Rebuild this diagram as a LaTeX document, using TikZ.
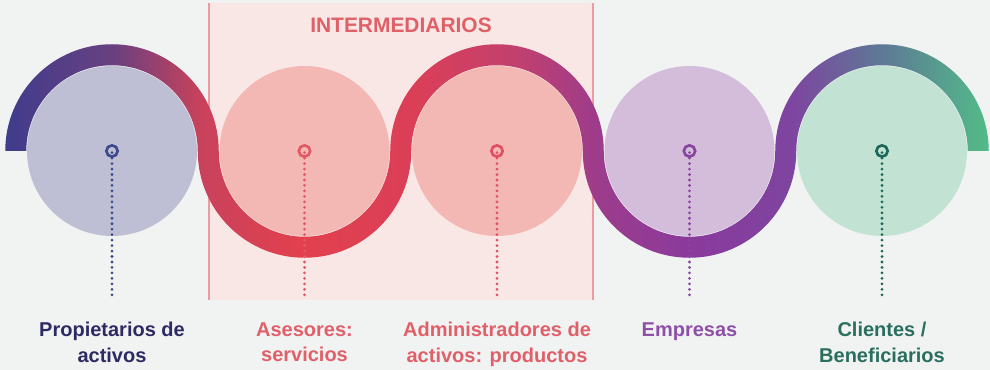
\documentclass[tikz,border=0pt]{standalone}
\usepackage{fontspec}
\setmainfont{Liberation Sans}

\definecolor{bgcol}{RGB}{241,243,242}
\definecolor{boxfill}{RGB}{249,231,229}
\definecolor{boxline}{RGB}{238,154,162}
\definecolor{titlecol}{RGB}{224,96,104}
% circle fills
\definecolor{fillprop}{RGB}{190,191,213}
\definecolor{fillinter}{RGB}{244,184,180}
\definecolor{fillemp}{RGB}{211,189,218}
\definecolor{fillcli}{RGB}{194,227,212}
% rings, dots and labels
\definecolor{ringprop}{RGB}{61,74,140}
\definecolor{ringases}{RGB}{224,90,102}
\definecolor{ringadm}{RGB}{224,79,99}
\definecolor{ringemp}{RGB}{137,68,160}
\definecolor{ringcli}{RGB}{29,103,90}
\definecolor{txtprop}{RGB}{46,42,99}
\definecolor{txtinter}{RGB}{224,96,106}
\definecolor{txtemp}{RGB}{142,79,168}
\definecolor{txtcli}{RGB}{42,110,94}
% ribbon stops
\definecolor{rb0}{RGB}{64,60,140}
\definecolor{rb1}{RGB}{104,64,128}
\definecolor{rb2}{RGB}{200,66,92}
\definecolor{rb3}{RGB}{226,64,78}
\definecolor{rb4}{RGB}{218,63,88}
\definecolor{rb5}{RGB}{192,64,112}
\definecolor{rb6}{RGB}{156,60,140}
\definecolor{rb7}{RGB}{138,58,156}
\definecolor{rb8}{RGB}{126,68,160}
\definecolor{rb9}{RGB}{94,120,150}
\definecolor{rb10}{RGB}{82,188,136}

\pgfdeclarehorizontalshading{ribbonshade}{100bp}{color(0bp)=(rb0); color(25bp)=(rb0); color(30.4bp)=(rb1); color(34.9bp)=(rb2); color(40bp)=(rb3); color(46.1bp)=(rb4); color(51.2bp)=(rb5); color(55.2bp)=(rb6); color(59.8bp)=(rb7); color(64.9bp)=(rb8); color(69.5bp)=(rb9); color(75bp)=(rb10); color(100bp)=(rb10)}

\tikzset{every picture/.style={line width=0.75pt}}
\tikzset{
  ring/.style={circle, draw=#1, line width=2pt, minimum size=8.5pt, inner sep=0pt},
  dots/.style={draw=#1, line width=2.3pt, line cap=round, dash pattern=on 0pt off 4.1pt},
  lbl/.style={anchor=north, inner sep=0pt, align=center, text=#1, font=\bfseries\fontsize{15}{19}\selectfont}
}

\begin{document}
\begin{tikzpicture}[x=0.75pt,y=0.75pt,yscale=-1,xscale=1]
%Background
\fill[bgcol] (0,0) rectangle (990,370);
\useasboundingbox (0,0) rectangle (990,370);

%Shape: Rectangle (intermediarios)
\fill[boxfill] (209,3) rectangle (593,300.5);
\draw[boxline, line width=1.5pt] (209,3) -- (209,300.5) (593,3) -- (593,300.5);
\node[anchor=base, inner sep=0pt, text=titlecol, font=\bfseries\fontsize{15.7}{19}\selectfont] (title) at (401,33) {INTERMEDIARIOS};

%Shape: Circles
\fill[fillprop] (112,151) circle [radius=85];
\fill[fillinter] (304.5,151) circle [radius=85];
\fill[fillinter] (497,151) circle [radius=85];
\fill[fillemp] (689.5,151) circle [radius=85];
\fill[fillcli] (882,151) circle [radius=85];

%Shape: Ribbon
\shade[shading=ribbonshade] (5.25,151) arc[start angle=180, end angle=360, radius=106.75] arc[start angle=180, end angle=0, radius=85.75] arc[start angle=180, end angle=360, radius=106.75] arc[start angle=180, end angle=0, radius=85.75] arc[start angle=180, end angle=360, radius=106.75] -- (967.75,151) arc[start angle=360, end angle=180, radius=85.75] arc[start angle=0, end angle=180, radius=106.75] arc[start angle=360, end angle=180, radius=85.75] arc[start angle=0, end angle=180, radius=106.75] arc[start angle=360, end angle=180, radius=85.75] -- cycle;

%Rings
\node[ring=ringprop] (rprop) at (112,151) {};
\node[ring=ringases] (rases) at (304.5,151) {};
\node[ring=ringadm] (radm) at (497,151) {};
\node[ring=ringemp] (remp) at (689.5,151) {};
\node[ring=ringcli] (rcli) at (882,151) {};

% Text Nodes
\node[lbl=txtprop] (lprop) at (112,322) {Propietarios de\\activos};
\node[lbl=txtinter] (lases) at (304.5,322) {Asesores:\\servicios};
\node[lbl=txtinter] (ladm) at (497,322) {Administradores de\\activos: productos};
\node[lbl=txtemp] (lemp) at (689.5,322) {Empresas};
\node[lbl=txtcli] (lcli) at (882,322) {Clientes /\\Beneficiarios};

%Dotted Lines
\coordinate (dprop) at (112,300);
\coordinate (dases) at (304.5,300);
\coordinate (dadm) at (497,300);
\coordinate (demp) at (689.5,300);
\coordinate (dcli) at (882,300);
\draw[dots=ringprop] ([yshift=-4pt]rprop.south) -- (dprop);
\draw[dots=ringases] ([yshift=-4pt]rases.south) -- (dases);
\draw[dots=ringadm] ([yshift=-4pt]radm.south) -- (dadm);
\draw[dots=ringemp] ([yshift=-4pt]remp.south) -- (demp);
\draw[dots=ringcli] ([yshift=-4pt]rcli.south) -- (dcli);

\end{tikzpicture}
\end{document}
